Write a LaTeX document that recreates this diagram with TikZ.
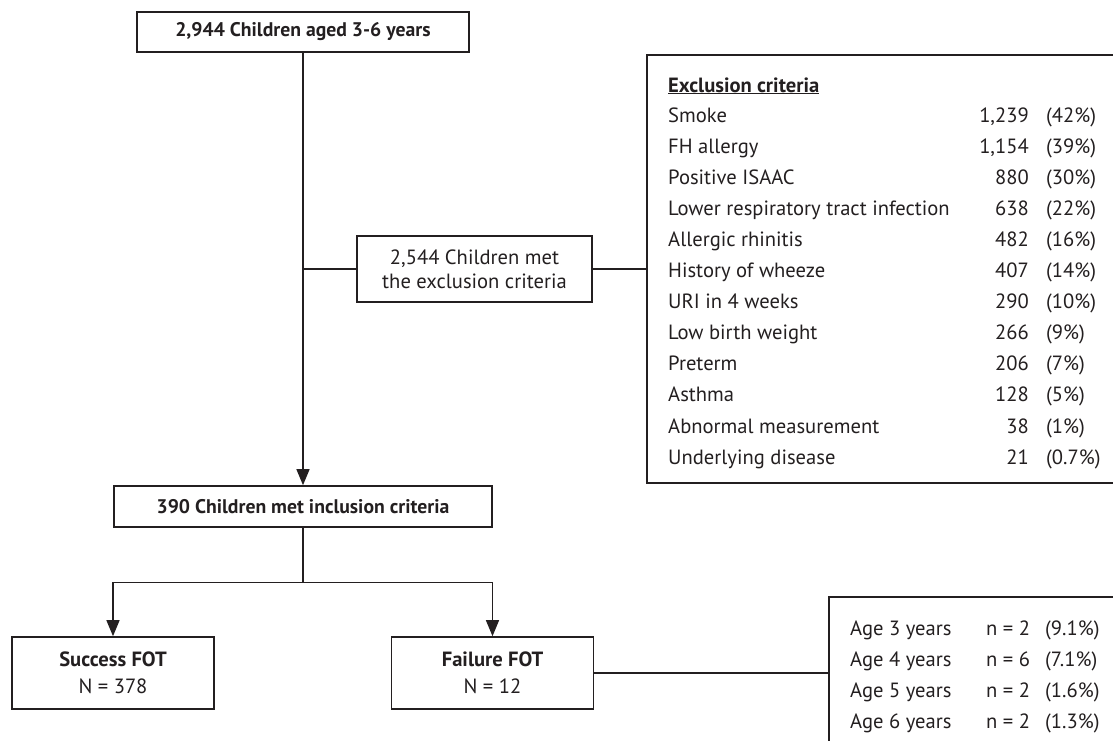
\documentclass[tikz,border=0pt]{standalone}
\usepackage{fontspec}
\setmainfont{PT Sans}
\usetikzlibrary{arrows.meta,positioning,calc}
\definecolor{Ink}{HTML}{231F20}

\begin{document}
\begin{tikzpicture}[x=1pt,y=-1pt,
    bx/.style={draw=Ink,line width=1.6pt,inner sep=0pt,align=center,text=Ink,font=\fontsize{20.6}{24}\selectfont},
    hd/.style={bx,font=\fontsize{19.7}{24}\selectfont\bfseries},
    fot/.style={bx,minimum width=202pt,minimum height=72pt,font=\fontsize{20.6}{27}\selectfont},
    ln/.style={draw=Ink,line width=1.3pt},
    a/.style={ln,-{Triangle[length=16pt,width=13pt]}},
    tx/.style={inner sep=0pt,text=Ink,font=\fontsize{20.6}{24}\selectfont}]
  \useasboundingbox (0,0) rectangle (1113,740);
  \node[hd,minimum width=332pt,minimum height=40pt] (all) at (303,32) {2,944 Children aged 3-6 years};
  \node[bx,minimum width=235pt,minimum height=66pt] (met) at (474.5,269) {2,544 Children met\\the exclusion criteria};
  \node[bx,minimum width=476pt,minimum height=428pt] (exbox) at (885,269) {};
  \node[hd,minimum width=378pt,minimum height=41pt] (incl) at (303,506.5) {390 Children met inclusion criteria};
  \node[fot] (succ) at (113,673) {\textbf{Success FOT}\\N = 378};
  \node[fot] (fail) at (492.5,673) {\textbf{Failure FOT}\\N = 12};
  \node[bx,minimum width=294pt,minimum height=163pt] (agebox) at (976,678.5) {};
  % exclusion list
  \node[tx,anchor=base west] (exhead) at (668,92) {\underline{\textbf{Exclusion criteria}}};
  \foreach \lbl/\num/\pct [count=\i] in {Smoke/{1,239}/(42\%), FH allergy/{1,154}/(39\%),
      Positive ISAAC/880/(30\%), Lower respiratory tract infection/638/(22\%),
      Allergic rhinitis/482/(16\%), History of wheeze/407/(14\%), URI in 4 weeks/290/(10\%),
      Low birth weight/266/(9\%), Preterm/206/(7\%), Asthma/128/(5\%),
      Abnormal measurement/38/(1\%), Underlying disease/21/(0.7\%)} {
    \node[tx,anchor=base west] (exl\i) at (668,{122+(\i-1)*31.1}) {\lbl};
    \node[tx,anchor=base east] (exn\i) at (1029,{122+(\i-1)*31.1}) {\num};
    \node[tx,anchor=base west] (exp\i) at (1046,{122+(\i-1)*31.1}) {\pct};
  }
  % failures by age
  \foreach \yr/\num/\pct [count=\i] in {3/2/(9.1\%), 4/6/(7.1\%), 5/2/(1.6\%), 6/2/(1.3\%)} {
    \node[tx,anchor=base west] (agel\i) at (850,{635+(\i-1)*31}) {Age \yr{} years};
    \node[tx,anchor=base west] (agen\i) at (986,{635+(\i-1)*31}) {n = \num};
    \node[tx,anchor=base west] (agep\i) at (1045,{635+(\i-1)*31}) {\pct};
  }
  \coordinate (split) at ($(incl.south)+(0,55)$);
  \draw[a] (all) -- (incl);
  \draw[ln] (met.west -| all.south) -- (met.west);
  \draw[ln] (met) -- (exbox);
  \draw[ln] (incl) -- (split);
  \draw[a] (split) -| (succ);
  \draw[a] (split) -| (fail);
  \draw[ln] (fail.east) -- (fail.east -| agebox.west);
\end{tikzpicture}
\end{document}
